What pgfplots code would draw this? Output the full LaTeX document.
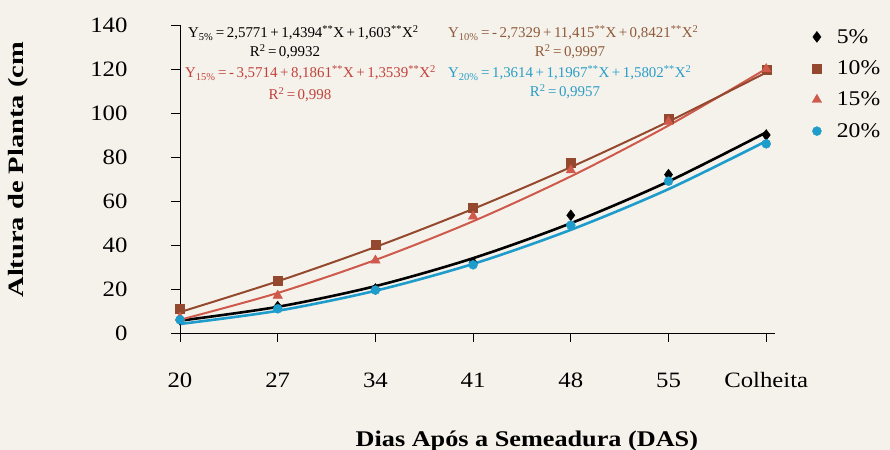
\documentclass[border=0pt]{standalone}
\usepackage{pgfplots}
\pgfplotsset{compat=1.18}
\usepackage{fontspec}
\setmainfont{Liberation Serif}
\newfontfamily\widefont[FakeStretch=1.13]{Liberation Serif}
\newfontfamily\xlabfont[FakeStretch=1.17]{Liberation Serif}
\newfontfamily\ylabfont[FakeStretch=1.3]{Liberation Serif}
\definecolor{paper}{HTML}{F5F2EB}
\definecolor{cbrown}{HTML}{94492F}
\definecolor{cred}{HTML}{CF5A4C}
\definecolor{ccyan}{HTML}{1E9CCB}
\definecolor{tbrown}{HTML}{8E5A3A}
\definecolor{tred}{HTML}{C2423A}
\definecolor{tcyan}{HTML}{2A9DC8}
\begin{document}
\begin{tikzpicture}
\fill[paper, use as bounding box] (-180bp,-117bp) rectangle (710bp,333bp);
\begin{axis}[
  at={(0,0)}, anchor=south west,
  scale only axis, width=595bp, height=308bp,
  xmin=0, xmax=6.09, ymin=0, ymax=140,
  axis x line=bottom, axis y line=left,
  axis line style={-, black, line width=0.8bp},
  tick align=outside, major tick length=9bp,
  tick style={black, line width=0.8bp},
  xtick={0,1,2,3,4,5,6},
  xticklabels={20,27,34,41,48,55,Colheita},
  ytick={0,20,40,60,80,100,120,140},
  /pgf/number format/assume math mode=true,
  ticklabel style={font=\widefont\fontsize{22}{26}\selectfont},
  xticklabel style={anchor=center, yshift=-37bp, text height=16bp, text depth=0bp},
  yticklabel style={anchor=east, xshift=-40bp},
  xlabel={\textbf{Dias Após a Semeadura (DAS)}},
  ylabel={\textbf{Altura de Planta (cm}},
  xlabel style={font=\xlabfont\fontsize{22.5}{26}\selectfont, at={(axis description cs:0.583,-0.352)}, anchor=center},
  ylabel style={font=\ylabfont\fontsize{22}{26}\selectfont, at={(axis description cs:-0.272,0.53)}, anchor=center},
  legend style={at={(1.055,1.0)}, anchor=north west, draw=none, fill=none,
    font=\widefont\fontsize{21}{25}\selectfont, row sep=12bp, nodes={inner sep=2bp}},
  legend cell align=left,
  legend image code/.code={\path[draw=none,fill=none] (0bp,0bp) -- (24bp,0bp); \draw[#1] plot coordinates {(6bp,0bp)};},
]
% trend lines
\addplot[ccyan, line width=2.6bp, smooth, forget plot] coordinates {
 (0,4.1) (1,10.1) (2,19.2) (3,31.4) (4,46.9) (5,65.4) (6,87.2)};
\addplot[black, line width=2.6bp, smooth, forget plot] coordinates {
 (0,5.6) (1,11.9) (2,21.3) (3,34.0) (4,49.9) (5,68.9) (6,91.2)};
\addplot[cred, line width=2bp, smooth, forget plot] coordinates {
 (0,6.0) (1,18.2) (2,33.2) (3,50.8) (4,71.2) (5,94.3) (6,120.1)};
\addplot[cbrown, line width=2bp, smooth, forget plot] coordinates {
 (0,9.5) (1,23.5) (2,39.1) (3,56.4) (4,75.4) (5,96.1) (6,118.4)};
% observed points
\addplot[only marks, mark=diamond*, mark size=5.5bp, black] coordinates {
 (0,6) (1,12) (2,20) (3,32) (4,53.5) (5,72) (6,90)};
\addlegendentry{5\%}
\addplot[only marks, mark=square*, mark size=4.5bp, cbrown] coordinates {
 (0,11) (1,24) (2,40) (3,57) (4,77.5) (5,97.5) (6,119.5)};
\addlegendentry{10\%}
\addplot[only marks, mark=triangle*, mark size=5.5bp, cred] coordinates {
 (0,7) (1,17) (2,33) (3,53) (4,74) (5,96) (6,120)};
\addlegendentry{15\%}
\addplot[only marks, mark=*, mark size=4.5bp, ccyan] coordinates {
 (0,6) (1,11) (2,19.5) (3,31) (4,49) (5,69) (6,86)};
\addlegendentry{20\%}
\end{axis}
\begin{scope}[font=\fontsize{15}{18}\selectfont, inner sep=0pt]
\node[anchor=west] at (8bp,300bp) {Y\textsubscript{5\%}\,=\,2,5771\,+\,1,4394\textsuperscript{**}X\,+\,1,603\textsuperscript{**}X\textsuperscript{2}};
\node at (105bp,281bp) {R\textsuperscript{2}\,=\,0,9932};
\node[anchor=west, text=tred] at (5bp,260bp) {Y\textsubscript{15\%}\,=\,-\,3,5714\,+\,8,1861\textsuperscript{**}X\,+\,1,3539\textsuperscript{**}X\textsuperscript{2}};
\node[text=tred] at (120bp,238bp) {R\textsuperscript{2}\,=\,0,998};
\node[anchor=west, text=tbrown] at (268bp,300bp) {Y\textsubscript{10\%}\,=\,-\,2,7329\,+\,11,415\textsuperscript{**}X\,+\,0,8421\textsuperscript{**}X\textsuperscript{2}};
\node[text=tbrown] at (390bp,281bp) {R\textsuperscript{2}\,=\,0,9997};
\node[anchor=west, text=tcyan] at (268bp,260bp) {Y\textsubscript{20\%}\,=\,1,3614\,+\,1,1967\textsuperscript{**}X\,+\,1,5802\textsuperscript{**}X\textsuperscript{2}};
\node[text=tcyan] at (385bp,241bp) {R\textsuperscript{2}\,=\,0,9957};
\end{scope}
\end{tikzpicture}
\end{document}
